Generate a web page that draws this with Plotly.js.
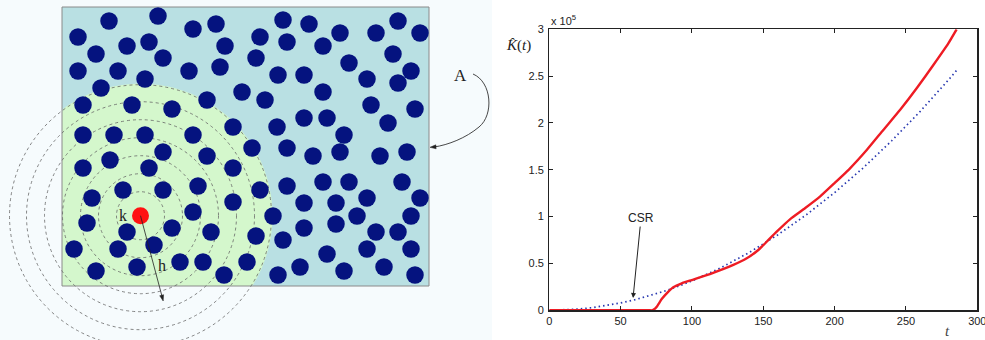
<!DOCTYPE html>
<html>
<head>
<meta charset="utf-8">
<script src="https://cdn.plot.ly/plotly-3.0.1.min.js"></script>
<style>html,body{margin:0;padding:0;background:#fff;}#chart{width:985px;height:340px;}</style>
</head>
<body>
<div id="chart"></div>
<script>
// ---- Left illustration: point pattern (pixel-like units of the drawing) ----
const dotX = [109,158,193,216,283,309,398,78,127,149,225,260,287,323,340,376,420,96,163,256,393,349,78,118,189,220,278,304,411,367,398,145,101,242,265,323,207,83,132,172,371,415,388,233,277,304,327,344,83,114,145,193,163,207,252,287,313,340,380,407,110,83,149,233,123,163,198,92,260,287,323,349,402,193,233,304,336,367,420,87,273,357,411,127,172,211,304,336,376,398,74,118,154,256,283,327,367,411,137,96,180,203,247,224,300,344,384,278,415];
const dotY = [21,16,29,24,20,24,21,37,46,42,46,37,42,46,33,33,33,54,58,58,54,63,71,71,71,67,75,75,71,79,83,79,88,92,100,92,100,105,105,109,105,109,123,127,127,118,118,135,135,135,135,135,152,156,148,148,156,152,156,152,160,168,168,168,190,190,186,198,190,186,182,182,182,212,202,203,203,198,198,223,216,216,216,232,228,232,228,224,232,232,249,249,245,236,240,254,249,249,267,271,262,262,262,275,267,271,267,275,275];
const focusX = [140.5];
const focusY = [215.7];
const ringRadii = [24, 42, 60, 78, 96, 114, 131];
const regionLabel = ['A'];

// ---- Right chart: K-function estimate vs CSR ----
const tRed = [0,20,40,60,70,72,73.5,75.3,78.8,82.3,86.9,92.8,99.8,112.6,129,138.4,146.5,152.4,159.4,168.7,179.2,189.7,199.8,210.8,222.5,234.1,245.8,257.5,269.2,279.7,285.5];
const kRed = [0,0,0,0,0,0,1000,3800,12000,18100,24500,28800,32300,38700,48400,55500,64400,73200,83900,97100,108900,121300,135600,151600,171100,192500,213800,237000,261900,285000,300000];
const tCSR = [0,10,20,30,40,50,60,70,80,90,100,120,140,160,180,200,220,240,260,280,286];
const kCSR = [0,300,1250,2800,5000,7850,11300,15400,20100,25400,31400,45200,61600,80400,101800,125700,152000,181000,212400,246300,257000];
const xTicks = [0,50,100,150,200,250,300];
const yTickVals = [0,50000,100000,150000,200000,250000,300000];
const yTickText = ['0','0.5','1','1.5','2','2.5','3'];

// geometry helpers
const RX0 = 62, RX1 = 429, RY0 = 7, RY1 = 286;
function clampedCirclePath(cx, cy, r) {
  let p = '';
  for (let i = 0; i <= 360; i += 2) {
    const a = i * Math.PI / 180;
    let x = Math.min(RX1, Math.max(RX0, cx + r * Math.cos(a)));
    let y = Math.min(RY1, Math.max(RY0, cy + r * Math.sin(a)));
    p += (i ? 'L' : 'M') + x.toFixed(2) + ',' + y.toFixed(2);
  }
  return p + 'Z';
}
function headPath(tipX, tipY, fromX, fromY, len, half) {
  const dx = tipX - fromX, dy = tipY - fromY, d = Math.hypot(dx, dy);
  const ux = dx / d, uy = dy / d;
  const bx = tipX - ux * len, by = tipY - uy * len;
  const px = -uy * half, py = ux * half;
  return 'M' + tipX + ',' + tipY + ' L' + (bx + px).toFixed(2) + ',' + (by + py).toFixed(2) +
         ' L' + (bx - px).toFixed(2) + ',' + (by - py).toFixed(2) + ' Z';
}

const cx = focusX[0], cy = focusY[0];
const shapes = [
  {type:'rect', xref:'x', yref:'y', x0:0, x1:492, y0:0, y1:340, fillcolor:'#f6fbfd', line:{width:0}, layer:'below'},
  {type:'rect', xref:'x', yref:'y', x0:RX0, x1:RX1, y0:RY0, y1:RY1, fillcolor:'#b9e0e3', line:{width:0}, layer:'below'},
  {type:'path', xref:'x', yref:'y', path:clampedCirclePath(cx, cy, 132), fillcolor:'#d4f7cc', line:{width:0}, layer:'below'},
  {type:'rect', xref:'x', yref:'y', x0:RX0, x1:RX1, y0:RY0, y1:RY1, fillcolor:'rgba(0,0,0,0)', line:{width:1, color:'#8a8a8a'}, layer:'below'},
  // curved arrow from label A to the study region
  {type:'path', xref:'x', yref:'y', path:'M 473,74 C 492,82 494,115 479,127 C 466,138 448,145 434,147', line:{width:0.9, color:'#333'}, layer:'above'},
  {type:'path', xref:'x', yref:'y', path:headPath(430, 147.3, 440, 146.5, 6, 2), fillcolor:'#222', line:{width:0.5, color:'#222'}, layer:'above'},
  // radius arrow h
  {type:'line', xref:'x', yref:'y', x0:cx, y0:cy, x1:162.2, y1:297, line:{width:0.8, color:'#222'}, layer:'above'},
  {type:'path', xref:'x', yref:'y', path:headPath(163.2, 301, cx, cy, 6, 2), fillcolor:'#222', line:{width:0.5, color:'#222'}, layer:'above'}
];
ringRadii.forEach(r => shapes.push({type:'circle', xref:'x', yref:'y', x0:cx-r, x1:cx+r, y0:cy-r, y1:cy+r,
  line:{width:0.8, color:'#666', dash:'dot'}, layer:'below'}));

const serif = 'Liberation Serif, DejaVu Serif, serif';
const sans = 'Liberation Sans, Arial, sans-serif';

const traces = [
  {x:dotX, y:dotY, xaxis:'x', yaxis:'y', type:'scatter', mode:'markers', hoverinfo:'skip',
   marker:{size:17.5, color:'#05137f', line:{width:0}}, cliponaxis:false},
  {x:focusX, y:focusY, xaxis:'x', yaxis:'y', type:'scatter', mode:'markers', hoverinfo:'skip',
   marker:{size:17, color:'#ff1212', line:{width:0}}},
  {x:tCSR, y:kCSR, xaxis:'x2', yaxis:'y2', type:'scatter', mode:'lines',
   line:{color:'#2838b0', width:1.7, dash:'1.5px,3px'}},
  {x:tRed, y:kRed, xaxis:'x2', yaxis:'y2', type:'scatter', mode:'lines',
   line:{color:'#ee1c24', width:2.4, shape:'spline', smoothing:0.4}}
];

const annotations = [
  {xref:'x', yref:'y', x:123, y:215, text:'k', showarrow:false, font:{family:serif, size:16, color:'#222'}},
  {xref:'x', yref:'y', x:162, y:265, text:'h', showarrow:false, font:{family:serif, size:16, color:'#222'}},
  {xref:'x', yref:'y', x:460, y:75, text:regionLabel[0], showarrow:false, font:{family:serif, size:17, color:'#222'}},
  {xref:'x2', yref:'y2', x:58.7, y:13100, ax:64.3, ay:98500, axref:'x2', ayref:'y2', text:'CSR', showarrow:true,
   arrowhead:2, arrowsize:1, arrowwidth:1, arrowcolor:'#222', font:{family:sans, size:12, color:'#222'}},
  {xref:'paper', yref:'paper', x:549/985, y:1-20/340, xanchor:'left', yanchor:'middle', showarrow:false,
   text:'x 10<sup>5</sup>', font:{family:sans, size:11, color:'#222'}},
  {xref:'paper', yref:'paper', x:518/985, y:1-46/340, xanchor:'center', yanchor:'middle', showarrow:false,
   text:'<i>K̂</i>(<i>t</i>)', font:{family:serif, size:15, color:'#222'}},
  {xref:'paper', yref:'paper', x:947/985, y:1-331/340, xanchor:'center', yanchor:'middle', showarrow:false,
   text:'<i>t</i>', font:{family:serif, size:15, color:'#444'}}
];

const layout = {
  width:985, height:340, margin:{l:0, r:0, t:0, b:0},
  paper_bgcolor:'#ffffff', plot_bgcolor:'rgba(0,0,0,0)', showlegend:false,
  xaxis:{domain:[0,1], range:[0,985], visible:false, fixedrange:true},
  yaxis:{domain:[0,1], range:[340,0], visible:false, fixedrange:true},
  xaxis2:{domain:[549.3/985, 977.3/985], anchor:'y2', range:[0,300], tickvals:xTicks, ticktext:xTicks.map(String),
    ticks:'inside', ticklen:4, tickcolor:'#222', showline:true, linecolor:'#222', linewidth:1.2, mirror:'ticks',
    showgrid:false, zeroline:false, tickfont:{family:sans, size:11, color:'#222'}, ticklabeloverflow:'allow'},
  yaxis2:{domain:[(340-310.3)/340, (340-29.3)/340], anchor:'x2', range:[0,300000], tickvals:yTickVals, ticktext:yTickText,
    ticks:'inside', ticklen:4, tickcolor:'#222', showline:true, linecolor:'#222', linewidth:1.2, mirror:'ticks',
    showgrid:false, zeroline:false, tickfont:{family:sans, size:11, color:'#222'}, ticklabelstandoff:2},
  shapes:shapes, annotations:annotations
};

Plotly.newPlot('chart', traces, layout, {staticPlot:true, displayModeBar:false});
</script>
</body>
</html>
